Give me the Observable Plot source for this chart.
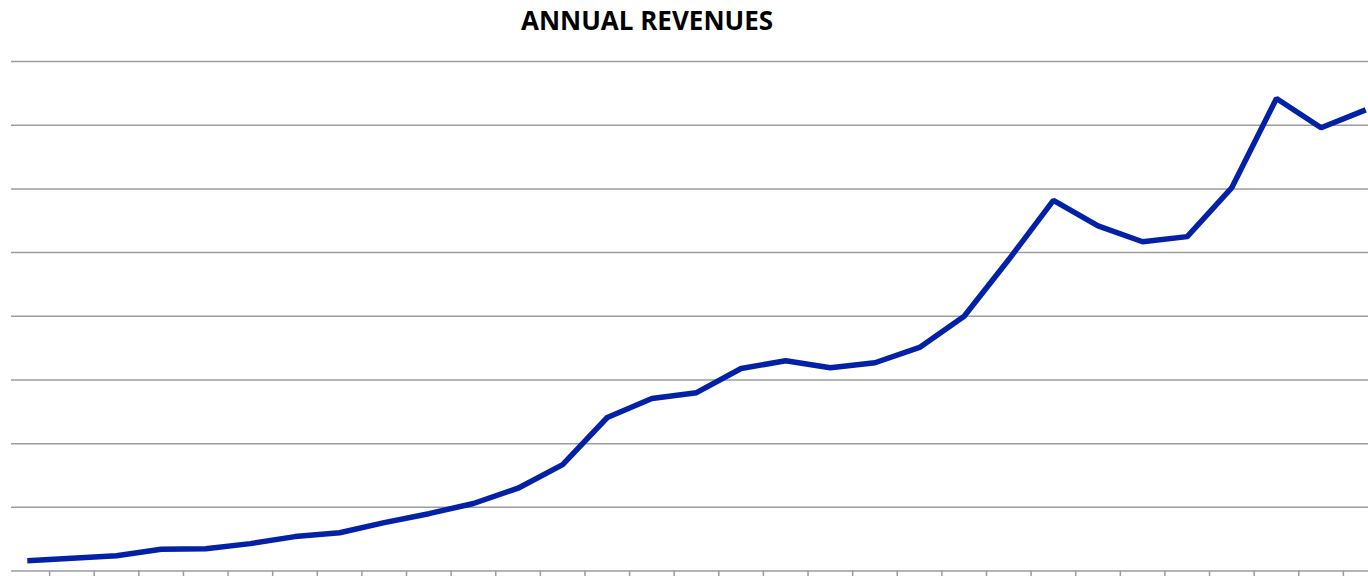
<!DOCTYPE html>
<html>
<head>
<meta charset="utf-8">
<script src="https://cdn.jsdelivr.net/npm/d3@7"></script>
<script src="https://cdn.jsdelivr.net/npm/@observablehq/plot@0.6"></script>
<style>
  html, body { margin: 0; padding: 0; background: #fff; overflow: hidden; width: 1368px; height: 576px; }
  #title { position: absolute; left: 647px; top: 7px; transform: translateX(-50%);
           font-family: "Open Sans", sans-serif; font-weight: 700; font-size: 26px; line-height: 26px;
           color: #000; white-space: nowrap; }
  #chart { position: absolute; left: 0; top: 40px; width: 1388px; }
  #chart svg { max-width: none !important; }
</style>
</head>
<body>
<div id="title">ANNUAL REVENUES</div>
<div id="chart"></div>
<script>
// Periods (x-axis categories; labels are not shown in the original)
const periods = [1, 2, 3, 4, 5, 6, 7, 8, 9, 10, 11, 12, 13, 14, 15, 16, 17, 18, 19, 20, 21, 22, 23, 24, 25, 26, 27, 28, 29, 30, 31];
// Annual revenue (relative units, one gridline = 10)
const revenues = [1.6, 2.0, 2.4, 3.4, 3.5, 4.3, 5.4, 6.0, 7.6, 9.0, 10.6, 13.0, 16.7, 24.1, 27.1, 28.0, 31.8, 33.0, 31.9, 32.7, 35.1, 40.0, 48.9, 58.2, 54.2, 51.7, 52.5, 60.2, 74.2, 69.6, 72.4];
// Y gridline values
const gridValues = [10, 20, 30, 40, 50, 60, 70, 80];

const data = periods.map((p, i) => ({period: p, revenue: revenues[i]}));
const tickValues = periods.slice(0, -1).map(p => p + 0.5);

const chart = Plot.plot({
  width: 1388,
  height: 536,
  marginLeft: 11,
  marginRight: 0,
  marginTop: 21,
  marginBottom: 5.5,
  style: {background: "transparent", overflow: "visible", maxWidth: "none"},
  x: {type: "linear", domain: [periods[0] - 0.5, periods[periods.length - 1] + 0.5], range: [4.5, 1387.5], axis: null, label: null},
  y: {domain: [0, 80], axis: null},
  marks: [
    Plot.ruleY(gridValues, {stroke: "#9c9c9c", strokeWidth: 1.5}),
    Plot.ruleY([0], {stroke: "#9c9c9c", strokeWidth: 1.5}),
    Plot.axisX({ticks: tickValues, tickSize: 8, tickFormat: () => "", label: null, stroke: "#9c9c9c", strokeWidth: 1.5, strokeOpacity: 1, anchor: "bottom"}),
    Plot.lineY(data, {x: "period", y: "revenue", stroke: "#0321a6", strokeWidth: 5.5, strokeLinejoin: "miter", strokeLinecap: "butt"})
  ]
});
document.getElementById("chart").appendChild(chart);
</script>
</body>
</html>
